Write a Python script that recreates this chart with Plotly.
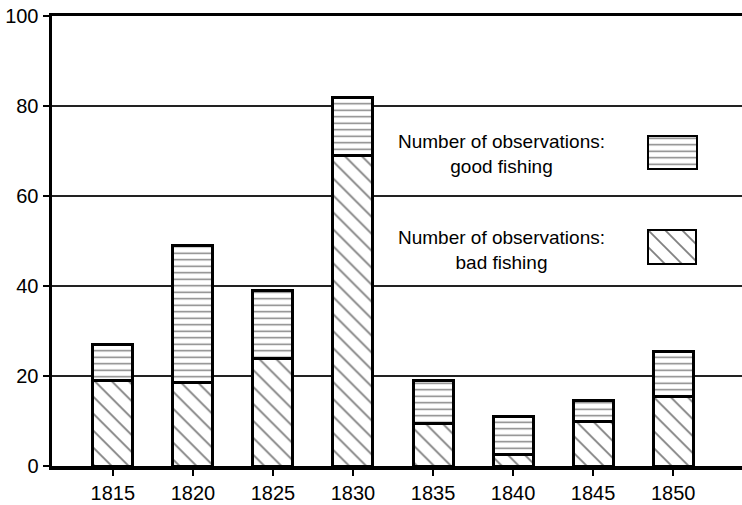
import plotly.graph_objects as go

years = [1815, 1820, 1825, 1830, 1835, 1840, 1845, 1850]
bad_fishing = [19, 18.5, 24, 69, 9.5, 2.5, 10, 15.5]
good_fishing = [8, 30.5, 15, 13, 9.5, 8.5, 4.5, 10]
y_ticks = [0, 20, 40, 60, 80, 100]
legend_labels = ["Number of observations:<br>good fishing",
                 "Number of observations:<br>bad fishing"]

W, H = 742, 505
L, R, T, B = 52, 0, 16, 39
pw, ph = W - L - R, H - T - B

def dx(px):
    return (px - L) / pw

def dy(py):
    return (H - B - py) / ph

line = dict(color="black", width=3)
bad_pat = dict(shape="\\", fgcolor="black", bgcolor="white", size=12, solidity=0.15, fillmode="overlay")
good_pat = dict(shape="-", fgcolor="black", bgcolor="white", size=6.5, solidity=0.22, fillmode="overlay")

fig = go.Figure()
fig.add_trace(go.Bar(x=years, y=bad_fishing, width=2.5, name="bad",
                     marker=dict(color="white", line=line, pattern=bad_pat)))
fig.add_trace(go.Bar(x=years, y=good_fishing, width=2.5, name="good",
                     marker=dict(color="white", line=line, pattern=good_pat)))

# legend swatches on mini axes
fig.add_trace(go.Bar(x=[0], y=[1], width=1, xaxis="x2", yaxis="y2",
                     marker=dict(color="white", line=dict(color="black", width=3.5), pattern=good_pat)))
fig.add_trace(go.Bar(x=[0], y=[1], width=1, xaxis="x3", yaxis="y3",
                     marker=dict(color="white", line=dict(color="black", width=3.5), pattern=bad_pat)))

font = dict(family="Liberation Sans, Arial, sans-serif", size=20, color="black")
fig.update_layout(
    width=W, height=H, margin=dict(l=L, r=R, t=T, b=B, autoexpand=False),
    paper_bgcolor="white", plot_bgcolor="white",
    barmode="stack", showlegend=False, font=font,
    xaxis=dict(range=[1811.2, 1854.3], tickvals=years, ticktext=[str(y) for y in years],
               automargin=False, showgrid=False, zeroline=False, showline=True,
               linecolor="black", linewidth=3.5, mirror=True,
               ticks="outside", ticklen=6, tickwidth=2, tickcolor="black"),
    yaxis=dict(range=[0, 100], tickvals=y_ticks, automargin=False,
               showgrid=True, gridcolor="#222", gridwidth=1.3,
               zeroline=False, showline=True, linecolor="black", linewidth=3.5,
               ticks="outside", ticklen=6, tickwidth=2, tickcolor="black"),
    xaxis2=dict(domain=[dx(647), dx(698)], range=[-0.5, 0.5], visible=False, anchor="y2"),
    yaxis2=dict(domain=[dy(170), dy(135)], range=[0, 1], visible=False, anchor="x2"),
    xaxis3=dict(domain=[dx(647), dx(697)], range=[-0.5, 0.5], visible=False, anchor="y3"),
    yaxis3=dict(domain=[dy(265), dy(229)], range=[0, 1], visible=False, anchor="x3"),
)

tfont = dict(family="Liberation Sans Narrow, Arial Narrow, sans-serif", size=19, color="black")
for label, ypx in zip(legend_labels, [154, 250]):
    fig.add_annotation(text=label, x=dx(501), y=dy(ypx), xref="paper", yref="paper",
                       showarrow=False, font=tfont, align="center", xanchor="center", yanchor="middle")

fig.write_html("out.html", config={"displayModeBar": False, "staticPlot": True},
               post_script="document.body.style.margin='0';document.body.style.overflow='hidden';")
